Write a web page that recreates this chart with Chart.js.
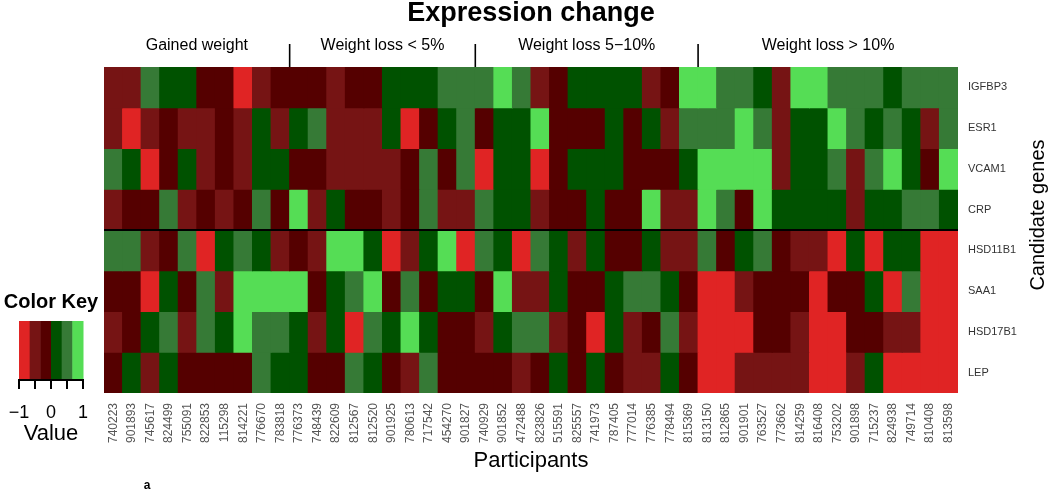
<!DOCTYPE html>
<html><head><meta charset="utf-8">
<script src="https://cdn.jsdelivr.net/npm/chart.js@4.4.1/dist/chart.umd.min.js"></script>
<style>html,body{margin:0;padding:0;background:#fff;}#wrap{width:1050px;height:491px;position:relative}</style>
</head><body><div id="wrap"><canvas id="c" width="1050" height="491"></canvas></div>
<script>
const participants = ['740223','901893','745617','824499','755091','822853','115298','814221','776670','783818',
 '776373','748439','822609','812567','812520','901925','780613','717542','454270','901827',
 '740929','901852','472488','823826','515591','825557','741973','787405','777014','776385','778494','815369',
 '813150','812865','901901','763527','773662','814259','816408','753202','901898','715237','824938','749714','810408','813598'];
const genes = ['IGFBP3','ESR1','VCAM1','CRP','HSD11B1','SAA1','HSD17B1','LEP'];
const groupLabels = ['Gained weight','Weight loss < 5%','Weight loss 5\u221210%','Weight loss > 10%'];
const groupSizes = [10,10,12,14];

const IGFBP3 = [-0.5,-0.5,0.5,0.15,0.15,-0.15,-0.15,-0.9,-0.5,-0.15,-0.15,-0.15,-0.5,-0.15,-0.15,0.15,
 0.15,0.15,0.5,0.5,0.5,0.9,0.5,-0.5,-0.15,0.15,0.15,0.15,0.15,-0.5,-0.15,0.9,
 0.9,0.5,0.5,0.15,-0.5,0.9,0.9,0.5,0.5,0.5,0.15,0.5,0.5,0.5];
const ESR1 = [-0.5,-0.9,-0.5,-0.15,-0.5,-0.5,-0.15,-0.5,0.15,-0.5,0.15,0.5,-0.5,-0.5,-0.5,0.15,
 -0.9,-0.15,0.15,0.5,-0.15,0.15,0.15,0.9,-0.15,-0.15,-0.15,0.15,-0.15,0.15,-0.5,0.5,
 0.5,0.5,0.9,0.5,-0.5,0.15,0.15,0.9,0.5,0.15,0.5,0.15,-0.5,0.5];
const VCAM1 = [0.5,0.15,-0.9,-0.15,0.15,-0.5,-0.15,-0.5,0.15,0.15,-0.15,-0.15,-0.5,-0.5,-0.5,-0.5,
 -0.15,0.5,-0.15,0.5,-0.9,0.15,0.15,-0.9,-0.15,0.15,0.15,0.15,-0.15,-0.15,-0.15,0.15,
 0.9,0.9,0.9,0.9,-0.5,0.15,0.15,0.5,-0.5,0.5,0.9,0.15,-0.15,0.9];
const CRP = [-0.5,-0.15,-0.15,0.5,-0.5,-0.15,-0.5,-0.15,0.5,-0.15,0.9,-0.5,0.15,-0.15,-0.15,-0.5,
 -0.15,0.5,-0.5,-0.5,0.5,0.15,0.15,-0.5,-0.15,-0.15,0.15,-0.15,-0.15,0.9,-0.5,-0.5,
 0.9,0.5,-0.15,0.9,0.15,0.15,0.15,0.15,-0.5,0.15,0.15,0.5,0.5,0.15];
const HSD11B1 = [0.5,0.5,-0.5,-0.15,0.5,-0.9,0.15,0.5,0.15,-0.5,-0.15,-0.5,0.9,0.9,0.15,-0.9,
 -0.5,0.15,0.9,-0.9,0.5,0.15,-0.9,0.5,0.15,-0.5,0.15,-0.15,-0.15,0.15,-0.5,-0.5,
 0.5,-0.15,0.15,0.5,-0.15,-0.5,-0.5,-0.9,0.15,-0.9,0.15,0.15,-0.9,-0.9];
const SAA1 = [-0.15,-0.15,-0.9,0.15,-0.15,0.5,-0.5,0.9,0.9,0.9,0.9,-0.15,0.15,0.5,0.9,-0.15,
 0.5,-0.15,0.15,0.15,-0.15,0.9,-0.5,-0.5,0.15,-0.15,-0.15,0.15,0.5,0.5,0.15,-0.15,
 -0.9,-0.9,-0.5,-0.15,-0.15,-0.15,-0.9,-0.15,-0.15,0.15,-0.9,0.5,-0.9,-0.9];
const HSD17B1 = [-0.5,-0.15,0.15,0.5,-0.5,0.5,0.15,0.9,0.5,0.5,0.15,-0.5,0.15,-0.9,0.5,0.15,
 0.9,0.15,-0.15,-0.15,-0.5,0.15,0.5,0.5,-0.5,-0.15,-0.9,0.15,-0.5,-0.15,0.5,-0.5,
 -0.9,-0.9,-0.9,-0.15,-0.15,-0.5,-0.9,-0.9,-0.15,-0.15,-0.5,-0.5,-0.9,-0.9];
const LEP = [-0.15,0.15,-0.5,0.15,-0.15,-0.15,-0.15,-0.15,0.5,0.15,0.15,-0.15,-0.15,0.5,0.15,-0.15,
 -0.5,0.5,-0.15,-0.15,-0.15,-0.15,-0.5,-0.15,0.15,-0.15,0.15,-0.15,-0.5,-0.5,0.15,-0.15,
 -0.9,-0.9,-0.5,-0.5,-0.5,-0.5,-0.9,-0.9,-0.5,0.15,-0.9,-0.9,-0.9,-0.9];
const geneValues = [IGFBP3, ESR1, VCAM1, CRP, HSD11B1, SAA1, HSD17B1, LEP];

const keyBreaks = [-1, -2/3, -1/3, 0, 1/3, 2/3, 1];
const keyColors = ['#E02424', '#761414', '#550000', '#005200', '#367A36', '#55DD55'];
const keyTicks = [-1, -0.5, 0, 0.5, 1];
const keyTickLabels = ['\u22121', '0', '1'];
const keyTickLabelValues = [-1, 0, 1];

function colorFor(v) {
  for (let i = 0; i < keyColors.length; i++) {
    if (v < keyBreaks[i + 1]) return keyColors[i];
  }
  return keyColors[keyColors.length - 1];
}

const FONT = "'Liberation Sans', Arial, Helvetica, sans-serif";

const datasets = genes.map((g, k) => ({
  label: g,
  data: participants.map(() => [7 - k, 8 - k]),
  backgroundColor: geneValues[k].map(colorFor),
  borderWidth: 0,
  grouped: false,
  barPercentage: 1,
  categoryPercentage: 1,
  inflateAmount: 0.5
}));

const decor = {
  id: 'decor',
  afterDraw(chart) {
    const ctx = chart.ctx;
    const xs = chart.scales.x, ys = chart.scales.y;
    const ca = chart.chartArea;
    ctx.save();
    ctx.strokeStyle = '#000';
    ctx.lineWidth = 2;
    const yd = ys.getPixelForValue(4);
    ctx.beginPath(); ctx.moveTo(ca.left, yd); ctx.lineTo(ca.right, yd); ctx.stroke();

    ctx.fillStyle = '#000';
    ctx.textAlign = 'center'; ctx.textBaseline = 'middle';
    ctx.font = 'bold 27px ' + FONT;
    ctx.fillText('Expression change', (ca.left + ca.right) / 2, 14);

    const half = (xs.getPixelForValue(1) - xs.getPixelForValue(0)) / 2;
    let start = 0;
    ctx.font = '16px ' + FONT;
    ctx.lineWidth = 1.6;
    groupSizes.forEach((n, gi) => {
      const left = xs.getPixelForValue(start) - half;
      const right = xs.getPixelForValue(start + n - 1) + half;
      ctx.fillText(groupLabels[gi], (left + right) / 2, 46);
      if (gi > 0) {
        ctx.beginPath(); ctx.moveTo(left, 44); ctx.lineTo(left, ca.top); ctx.stroke();
      }
      start += n;
    });

    ctx.font = '22px ' + FONT;
    ctx.fillText('Participants', (ca.left + ca.right) / 2, 461);
    ctx.save();
    ctx.translate(1038, 215);
    ctx.rotate(-Math.PI / 2);
    ctx.font = '20px ' + FONT;
    ctx.fillText('Candidate genes', 0, 0);
    ctx.restore();

    ctx.font = 'bold 12px ' + FONT;
    ctx.fillText('a', 147, 486);

    const kx0 = 19, kx1 = 83, ky0 = 321, ky1 = 379;
    const kmap = v => kx0 + (v - keyBreaks[0]) / (keyBreaks[keyBreaks.length - 1] - keyBreaks[0]) * (kx1 - kx0);
    keyColors.forEach((c, i) => {
      const a = kmap(keyBreaks[i]), b = kmap(keyBreaks[i + 1]);
      ctx.fillStyle = c;
      ctx.fillRect(a, ky0, b - a + 0.5, ky1 - ky0);
    });
    ctx.strokeStyle = '#000'; ctx.lineWidth = 2;
    ctx.beginPath(); ctx.moveTo(kx0, ky1 + 1); ctx.lineTo(kx1, ky1 + 1); ctx.stroke();
    keyTicks.forEach(t => {
      const x = kmap(t);
      ctx.beginPath(); ctx.moveTo(x, ky1); ctx.lineTo(x, ky1 + 10); ctx.stroke();
    });
    ctx.fillStyle = '#000';
    ctx.font = '18px ' + FONT;
    keyTickLabels.forEach((l, i) => ctx.fillText(l, kmap(keyTickLabelValues[i]), 413));
    ctx.font = '22px ' + FONT;
    ctx.fillText('Value', 51, 434);
    ctx.font = 'bold 20px ' + FONT;
    ctx.fillText('Color Key', 51, 302);
    ctx.restore();
  }
};

new Chart(document.getElementById('c'), {
  type: 'bar',
  data: { labels: participants, datasets },
  options: {
    responsive: false,
    animation: false,
    events: [],
    layout: { padding: { left: 104, top: 67, right: 0, bottom: 0 } },
    plugins: { legend: { display: false }, tooltip: { enabled: false }, title: { display: false } },
    scales: {
      x: {
        type: 'category',
        grid: { display: false, drawTicks: false },
        border: { display: false },
        ticks: {
          autoSkip: false, minRotation: 90, maxRotation: 90, padding: 10,
          color: '#555', font: { family: FONT, size: 12 }
        },
        afterFit: s => { s.height = 98; }
      },
      y: {
        type: 'linear', position: 'right', min: 0, max: 8,
        grid: { display: false, drawTicks: false },
        border: { display: false },
        afterBuildTicks: s => { s.ticks = genes.map((g, k) => ({ value: 7.5 - k })); },
        ticks: {
          padding: 10, color: '#333', font: { family: FONT, size: 11 },
          callback: v => genes[Math.round(7.5 - v)]
        },
        afterFit: s => { s.width = 92; }
      }
    }
  },
  plugins: [decor]
});
</script></body></html>
